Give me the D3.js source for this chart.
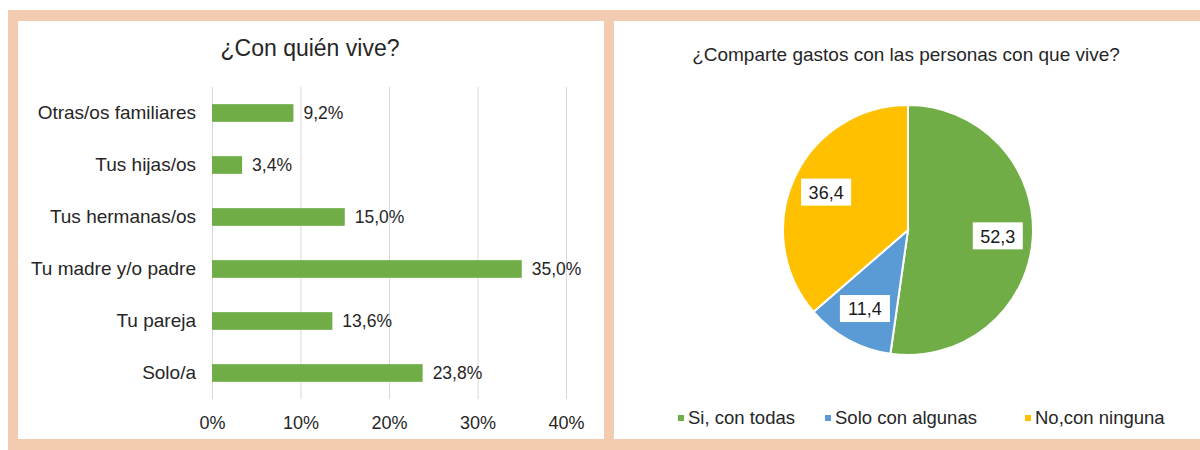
<!DOCTYPE html>
<html>
<head>
<meta charset="utf-8">
<script src="https://cdn.jsdelivr.net/npm/d3@7"></script>
<style>
	body { margin: 0; background: #fff; }
	svg { display: block; font-family: "Liberation Sans", Arial, sans-serif; }
</style>
</head>
<body>
<div id="chart"></div>
<script>
// data
var barTitle = "¿Con quién vive?";
var barCategories = ["Otras/os familiares", "Tus hijas/os", "Tus hermanas/os", "Tu madre y/o padre", "Tu pareja", "Solo/a"];
var barValues = [9.2, 3.4, 15.0, 35.0, 13.6, 23.8];
var barTicks = [0, 10, 20, 30, 40];

var pieTitle = "¿Comparte gastos con las personas con que vive?";
var pieLabels = ["Si, con todas", "Solo con algunas", "No,con ninguna"];
var pieValues = [52.3, 11.4, 36.4];
var pieColors = ["#70ad47", "#5b9bd5", "#ffc000"];

var width = 1200,
	height = 450,
	frame = "#f3cbb0",
	green = "#70ad47",
	textColor = "#262626";

function fmt(v, digits) {
	return v.toFixed(digits).replace(".", ",");
}

var svg = d3.select("#chart")
	.append("svg")
	.attr("width", width)
	.attr("height", height);

// peach frame and the two white panels
svg.append("rect")
	.attr("x", 8).attr("y", 10)
	.attr("width", width - 8).attr("height", height - 10)
	.attr("fill", frame);
svg.append("rect")
	.attr("x", 18).attr("y", 21)
	.attr("width", 586).attr("height", 418)
	.attr("fill", "#fff");
svg.append("rect")
	.attr("x", 614).attr("y", 21)
	.attr("width", width - 614).attr("height", 418)
	.attr("fill", "#fff");

// ---- bar chart ----
var x = d3.scaleLinear().domain([0, 40]).range([212, 566]);
var y = d3.scaleBand().domain(barCategories).range([87, 399]).paddingInner(0.66).paddingOuter(0.33);

var left = svg.append("g");

left.append("text")
	.attr("x", 310).attr("y", 56)
	.attr("text-anchor", "middle")
	.attr("font-size", 23)
	.attr("fill", textColor)
	.text(barTitle);

var xAxis = left.append("g")
	.attr("transform", "translate(0,399)")
	.call(d3.axisBottom(x).tickValues(barTicks).tickSize(-312).tickPadding(17)
		.tickFormat(function(d) { return d + "%"; }));
xAxis.select(".domain").remove();
xAxis.selectAll(".tick line").attr("stroke", "#d9d9d9");
xAxis.selectAll(".tick text")
	.attr("font-size", 18)
	.attr("font-family", "inherit")
	.attr("fill", textColor);

var yAxis = left.append("g")
	.attr("transform", "translate(212,0)")
	.call(d3.axisLeft(y).tickSize(0).tickPadding(16));
yAxis.select(".domain").remove();
yAxis.selectAll(".tick text")
	.attr("font-size", 19)
	.attr("font-family", "inherit")
	.attr("fill", textColor);

left.selectAll("rect.bar")
	.data(barValues)
	.enter().append("rect")
	.attr("class", "bar")
	.attr("x", x(0))
	.attr("y", function(d, i) { return y(barCategories[i]); })
	.attr("width", function(d) { return x(d) - x(0); })
	.attr("height", y.bandwidth())
	.attr("fill", green);

left.selectAll("text.val")
	.data(barValues)
	.enter().append("text")
	.attr("class", "val")
	.attr("x", function(d) { return x(d) + 10; })
	.attr("y", function(d, i) { return y(barCategories[i]) + y.bandwidth() / 2; })
	.attr("dy", "0.35em")
	.attr("font-size", 17.5)
	.attr("fill", textColor)
	.text(function(d) { return fmt(d, 1) + "%"; });

// ---- pie chart ----
var right = svg.append("g");

right.append("text")
	.attr("x", 906).attr("y", 61)
	.attr("text-anchor", "middle")
	.attr("font-size", 19)
	.attr("fill", textColor)
	.text(pieTitle);

var radius = 125;
var pie = d3.pie().sort(null).value(function(d) { return d; });
var arc = d3.arc().innerRadius(0).outerRadius(radius);
var labelArc = d3.arc().innerRadius(radius * 0.72).outerRadius(radius * 0.72);

var pieG = right.append("g").attr("transform", "translate(908,230)");
var arcs = pie(pieValues);

pieG.selectAll("path")
	.data(arcs)
	.enter().append("path")
	.attr("d", arc)
	.attr("fill", function(d, i) { return pieColors[i]; })
	.attr("stroke", "#fff")
	.attr("stroke-width", 2);

var lab = pieG.selectAll("g.lab")
	.data(arcs)
	.enter().append("g")
	.attr("class", "lab")
	.attr("transform", function(d) { return "translate(" + labelArc.centroid(d) + ")"; });

lab.append("rect")
	.attr("x", -25).attr("y", -14)
	.attr("width", 50).attr("height", 27)
	.attr("fill", "#fff");

lab.append("text")
	.attr("text-anchor", "middle")
	.attr("dy", "0.35em")
	.attr("font-size", 18)
	.attr("fill", "#1a1a1a")
	.text(function(d) { return fmt(d.data, 1); });

// legend
var legendX = [678, 825, 1025];
var legend = right.selectAll("g.leg")
	.data(pieLabels)
	.enter().append("g")
	.attr("class", "leg")
	.attr("transform", function(d, i) { return "translate(" + legendX[i] + ",418)"; });

legend.append("rect")
	.attr("x", 0).attr("y", -3)
	.attr("width", 6).attr("height", 6)
	.attr("fill", function(d, i) { return pieColors[i]; });

legend.append("text")
	.attr("x", 10)
	.attr("dy", "0.35em")
	.attr("font-size", 18.5)
	.attr("fill", textColor)
	.text(function(d) { return d; });
</script>
</body>
</html>
